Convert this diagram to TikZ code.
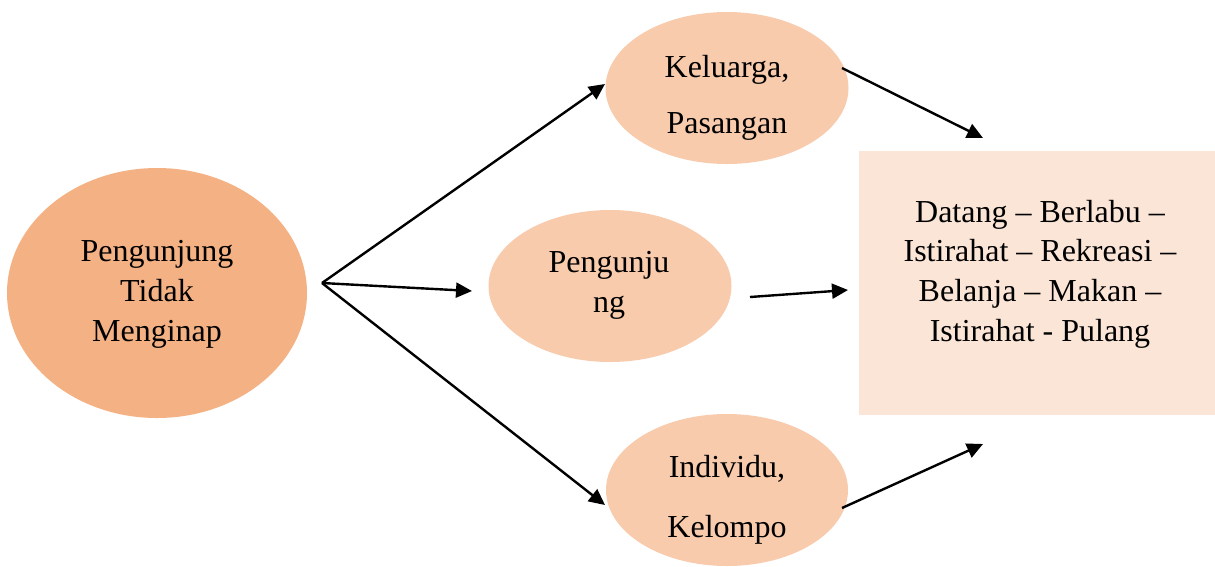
\documentclass[tikz,border=0pt]{standalone}
\usepackage{fontspec}
\setmainfont{Liberation Serif}
\usetikzlibrary{arrows.meta,shapes.geometric}
\definecolor{darkpeach}{HTML}{F4B183}
\definecolor{peach}{HTML}{F8CBAD}
\definecolor{palepeach}{HTML}{FBE5D6}
\tikzset{
  blob/.style={ellipse, fill=peach, draw=none, inner sep=0pt},
  lbl/.style={align=center, inner sep=0pt, text=black},
  conn/.style={line width=2.4pt, -{Triangle[length=16pt,width=15pt]}},
}
\begin{document}
\begin{tikzpicture}[x=1pt,y=-1pt]
  \useasboundingbox (0,0) rectangle (1215,566);

  % shapes
  \node[blob, fill=darkpeach, minimum width=300pt, minimum height=250pt] (left) at (157,293) {};
  \node[blob, minimum width=243pt, minimum height=152pt] (top) at (727,88) {};
  \node[blob, minimum width=243pt, minimum height=152pt] (mid) at (610,286) {};
  \node[blob, minimum width=242pt, minimum height=152pt] (bot) at (727,490) {};
  \node[fill=palepeach, minimum width=356pt, minimum height=264pt, inner sep=0pt] (box) at (1037,283) {};

  % texts
  \node[lbl, font=\fontsize{32}{40}\selectfont] (leftT) at (157,294) {Pengunjung\\Tidak\\Menginap};
  \node[lbl, font=\fontsize{32}{56}\selectfont] (topT) at (727,98) {Keluarga,\\Pasangan};
  \node[lbl, font=\fontsize{32}{40}\selectfont] (midT) at (609,285) {Pengunju\\ng};
  \node[lbl, font=\fontsize{32}{60}\selectfont] (botT) at (727,500) {Individu,\\Kelompo};
  \node[lbl, font=\fontsize{32}{39.7}\selectfont] (boxT) at (1040,274) {Datang -- Berlabu --\\Istirahat -- Rekreasi --\\Belanja -- Makan --\\Istirahat - Pulang};

  % connector end points
  \coordinate (fork) at (322,283);
  \coordinate (toTop) at (605,84);
  \coordinate (toMid) at (472,291);
  \coordinate (toBot) at (605,505);
  \coordinate (fromTop) at (842,68);
  \coordinate (inTop) at (983,138);
  \coordinate (fromMid) at (750,297);
  \coordinate (inMid) at (848,290);
  \coordinate (fromBot) at (842,508);
  \coordinate (inBot) at (983,444);

  % connectors
  \draw[conn] (fork) -- (toTop);
  \draw[conn] (fork) -- (toMid);
  \draw[conn] (fork) -- (toBot);
  \draw[conn] (fromTop) -- (inTop);
  \draw[conn] (fromMid) -- (inMid);
  \draw[conn] (fromBot) -- (inBot);
\end{tikzpicture}
\end{document}
